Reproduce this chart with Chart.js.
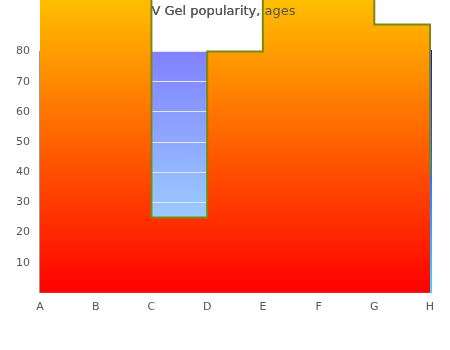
<!DOCTYPE html>
<html><head><meta charset="utf-8">
<script src="https://cdn.jsdelivr.net/npm/chart.js@4/dist/chart.umd.min.js"></script>
<style>html,body{margin:0;padding:0;background:#fff}</style>
</head><body>
<canvas id="c" width="450" height="350"></canvas>
<script>
const categories = ['A', 'B', 'C', 'D', 'E', 'F', 'G', 'H'];
const popularity = [100, 100, 25, 80, 100, 100, 89, 39];
const yTickValues = [10, 20, 30, 40, 50, 60, 70, 80];
const chartTitle = 'V Gel popularity, ages';

Chart.defaults.font.family = "'DejaVu Sans', sans-serif";
Chart.defaults.color = '#555';

function orangeGradient(chart) {
  const a = chart.chartArea;
  const g = chart.ctx.createLinearGradient(0, a.bottom, 0, 0);
  g.addColorStop(0, '#ff0000');
  g.addColorStop(1, '#ffbe00');
  return g;
}
function edgeColor(ctx) {
  const chart = ctx.chart, a = chart.chartArea;
  if (!a) return '#2020ff';
  const g = chart.ctx.createLinearGradient(0, a.top, 0, a.bottom);
  g.addColorStop(0, '#1010ff');
  g.addColorStop(1, '#40d8ff');
  return g;
}

const bgPlugin = {
  id: 'areaBg',
  beforeDraw(chart) {
    const a = chart.chartArea, c = chart.ctx;
    const g = c.createLinearGradient(0, a.top, 0, a.bottom);
    g.addColorStop(0, '#8080ff');
    g.addColorStop(1, '#a6eeff');
    c.save();
    c.fillStyle = g;
    c.fillRect(a.left, a.top, a.right - a.left, a.bottom - a.top);
    c.restore();
  }
};
// area fill under the stepped line, not clipped to the chart area
const freeFill = {
  id: 'freeFill',
  beforeDatasetDraw(chart, args) {
    const meta = args.meta;
    const line = meta.dataset;
    const pts = meta.data;
    if (!line || !pts.length) return;
    const base = chart.scales.y.getPixelForValue(0);
    const c = chart.ctx;
    c.save();
    c.beginPath();
    line.path(c);
    c.lineTo(pts[pts.length - 1].x, base);
    c.lineTo(pts[0].x, base);
    c.closePath();
    c.fillStyle = orangeGradient(chart);
    c.fill();
    c.restore();
  }
};
const titleOnTop = {
  id: 'titleOnTop',
  afterDatasetsDraw(chart) {
    if (chart.titleBlock) chart.titleBlock.draw(chart.chartArea);
  }
};

new Chart(document.getElementById('c'), {
  type: 'line',
  data: {
    labels: categories,
    datasets: [{
      label: 'popularity',
      data: popularity,
      stepped: 'before',
      fill: false,
      borderColor: '#7a8a10',
      borderWidth: 2,
      pointRadius: 0,
      clip: false,
      tension: 0
    }]
  },
  plugins: [bgPlugin, freeFill, titleOnTop],
  options: {
    responsive: false,
    animation: false,
    layout: { padding: { left: 6, right: 9, bottom: 28, top: 0 } },
    plugins: {
      legend: { display: false },
      tooltip: { enabled: false },
      title: {
        display: true,
        text: chartTitle,
        color: '#555',
        font: { size: 13, weight: 'normal' },
        padding: { top: 4, bottom: 32 }
      }
    },
    scales: {
      x: {
        grid: { display: false, drawTicks: false },
        border: { display: true, color: '#999', width: 1 },
        ticks: { padding: 8, font: { size: 11 }, maxRotation: 0 }
      },
      y: {
        min: 0, max: 80,
        afterBuildTicks: s => { s.ticks = yTickValues.map(v => ({ value: v })); },
        grid: { color: '#e4e4ee', drawTicks: false },
        border: { display: true, color: '#999', width: 1 },
        ticks: { padding: 10, font: { size: 11 } }
      },
      y2: {
        position: 'right',
        display: true,
        min: 0, max: 80,
        afterFit: s => { s.width = 11; },
        grid: { display: false, drawTicks: false },
        ticks: { display: false },
        border: { display: true, color: edgeColor, width: 3 }
      }
    }
  }
});
</script>
</body></html>
